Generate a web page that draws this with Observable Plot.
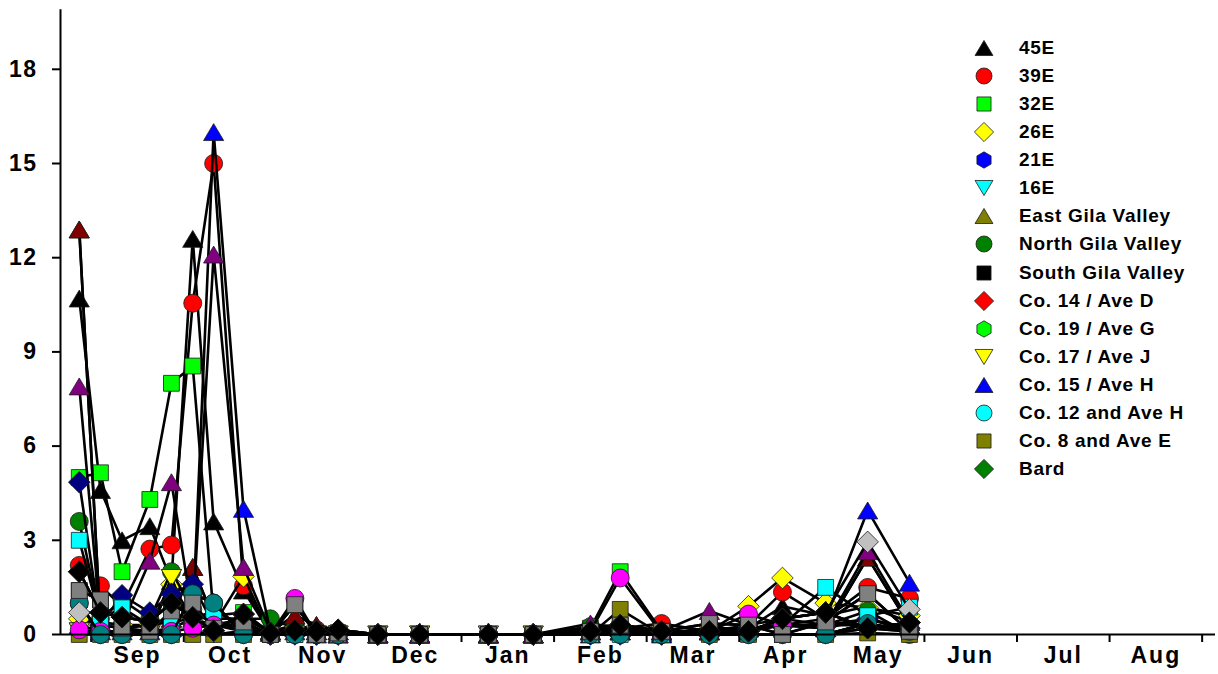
<!DOCTYPE html>
<html><head><meta charset="utf-8">
<script src="https://cdn.jsdelivr.net/npm/d3@7"></script>
<script src="https://cdn.jsdelivr.net/npm/@observablehq/plot@0.6"></script>
<style>
body{margin:0;background:#fff;}
#wrap{position:relative;width:1218px;height:674px;font-family:"Liberation Sans",Arial,sans-serif;}
#wrap svg g[aria-label="x-axis tick label"] text{letter-spacing:2px;}
#wrap svg g[aria-label="y-axis tick label"] text{letter-spacing:1.5px;}
#legend{position:absolute;left:970px;top:34px;}
.lrow{height:28.07px;display:flex;align-items:center;}
.lrow svg{width:28px;height:28px;flex:none;}
.lrow span{margin-left:21px;font-weight:bold;font-size:19px;letter-spacing:0.7px;color:#000;white-space:nowrap;}
</style></head><body><div id="wrap"></div><script>
// ---------- data ----------
const sampleDates = ["2014-08-28","2014-09-04","2014-09-11","2014-09-20","2014-09-27","2014-10-04","2014-10-11","2014-10-21","2014-10-30","2014-11-07","2014-11-14","2014-11-21","2014-12-04","2014-12-18","2015-01-10","2015-01-25","2015-02-12","2015-02-21","2015-03-06","2015-03-22","2015-04-04","2015-04-15","2015-04-29","2015-05-13","2015-05-27"];
const monthLabels = ["Sep","Oct","Nov","Dec","Jan","Feb","Mar","Apr","May","Jun","Jul","Aug"];
const yTicks = [0,3,6,9,12,15,18];

const v45E   = [10.7,4.6,3.0,3.45,1.7,12.6,3.6,1.4,0.05,0.3,0.1,0.1,0,0,0,0,0.1,0.2,0.05,0.2,0.2,0.9,0.6,0.9,0.4];
const v39E   = [2.2,1.55,0.9,2.72,2.85,10.55,15.0,1.55,0.1,0.3,0.15,0.1,0,0,0,0,0.2,0.2,0.35,0.1,0.3,1.35,0.5,1.5,1.15];
const v32E   = [5.0,5.15,2.0,4.3,8.0,8.55,0.6,0.7,0.05,0.1,0,0,0,0,0,0,0.2,2.0,0.1,0.1,0.1,0.3,0.2,0.5,0.1];
const v26E   = [0.5,0.3,0.3,0.3,1.6,0.5,0.3,1.85,0,0.1,0,0,0,0,0,0,0.1,0.1,0,0.1,0.9,1.8,1.0,0.85,0.6];
const v21E   = [1.0,0,0,0,0,1.3,1.0,0,0,0,0,0,0,0,0,0,0,0,0,0,0,0,0,0.35,0.1];
const v16E   = [0.1,0,0,0,1.8,0.1,0,0.1,0,0,0,0,0,0,0,0,0,0,0,0,0,0,0,0.2,0.1];
const vEGV   = [12.9,0.3,0.2,0.3,0.5,2.15,0.5,0.5,0.1,0.6,0.3,0.1,0,0,0,0,0.1,0.1,0.1,0.1,0.2,0.3,0.2,2.45,0.3];
const vNGV   = [3.6,0.5,1.1,0.5,2.0,0.8,0.3,0.5,0.5,0.2,0.1,0,0,0,0,0,0.25,0.3,0.1,0.1,0.2,0.3,0.3,0.75,0];
const vSGV   = [1.4,1.1,0.2,0.1,0.75,1.0,0.2,0.4,0,0.95,0,0.05,0,0,0,0,0.1,0.3,0.1,0.35,0.3,0,0.4,1.3,0.1];
const vCo14  = [2.0,0.7,0.55,0.42,1.0,0.55,0.12,0.65,0.05,0.13,0.1,0.15,0,0,0,0,0.1,0.3,0.1,0.1,0.1,0.5,0.7,0.2,0.38];
const vCo19  = [1.0,0,0,0,0,1.3,1.0,0,0,0,0,0,0,0,0,0,0,0,0,0,0,0,0,0.35,0.1];
const vCo17  = [0.1,0,0,0,1.8,0.1,0,0.1,0,0,0,0,0,0,0,0,0,0,0,0,0,0,0,0.2,0.1];
const vCo15  = [0.3,0.1,0.1,0.1,0.2,0.5,16.0,4.0,0.1,0.1,0,0,0,0,0,0,0,0.1,0,0.1,0.2,0.3,0.5,3.95,1.65];
const vCo12  = [1.0,0,0,0,0,1.3,1.0,0,0,0,0,0,0,0,0,0,0,0,0,0,0,0,0,0.35,0.1];
const vCo8   = [0,0,0,0,0,0,0,0,0,0,0,0,0,0,0,0,0,0.8,0,0,0,0,0,0.05,0];
const vBard  = [2.0,0.7,0.55,0.42,1.0,0.55,0.12,0.65,0.05,0.13,0.1,0.15,0,0,0,0,0.1,0.3,0.1,0.1,0.1,0.5,0.7,0.2,0.38];
const vS17   = [12.9,0.3,0.2,0.3,0.5,2.15,0.5,0.5,0.1,0.6,0.3,0.1,0,0,0,0,0.1,0.1,0.1,0.1,0.2,0.3,0.2,2.45,0.3];
const vS18   = [7.9,0.4,0.3,2.35,4.85,0.6,12.1,2.15,0.1,0.2,0.1,0,0,0,0,0,0.35,0.2,0.1,0.75,0.3,0.5,0.3,2.65,0.4];
const vS19   = [4.85,0.3,1.25,0.7,1.3,1.6,0.3,0.2,0,0,0,0,0,0,0,0,0,0,0,0,0.2,0.3,0.3,0.5,0.2];
const vS20   = [3.0,0.5,0.85,0.3,0.4,0.5,0.75,0.3,0,0,0,0,0,0,0,0,0,0,0,0.1,0.1,0.3,1.5,0.6,0.87];
const vS21   = [0.15,0.1,0.05,0.05,0.1,0.2,0.3,0.1,0,1.15,0,0,0,0,0,0,0.1,1.8,0.05,0.1,0.65,0.3,0.3,0.3,0.2];
const vS22   = [1.0,0,0,0,0,1.3,1.0,0,0,0,0,0,0,0,0,0,0,0,0,0,0,0,0,0.35,0.1];
const vS23   = [1.4,1.1,0.2,0.1,0.75,1.0,0.2,0.4,0,0.95,0,0.05,0,0,0,0,0.1,0.3,0.1,0.35,0.3,0,0.4,1.3,0.1];
const vS24   = [0.7,0.7,0.55,0.42,1.0,0.55,0.12,0.65,0.05,0.13,0.1,0.15,0,0,0,0,0.1,0.3,0.1,0.1,0.1,0.5,0.7,2.95,0.8];
const vS25   = [2.0,0.7,0.55,0.42,1.0,0.55,0.12,0.65,0.05,0.13,0.1,0.15,0,0,0,0,0.1,0.3,0.1,0.1,0.1,0.5,0.7,0.2,0.38];

// ---------- symbols ----------
function sym(fn){ return {draw(c,size){ const R=Math.sqrt(size/Math.PI); fn(c,R); }}; }
const shapes = {
  circle: sym((c,R)=>{c.moveTo(R,0); c.arc(0,0,R,0,2*Math.PI); c.closePath();}),
  square: sym((c,R)=>{const h=R*0.88; c.moveTo(-h,-h); c.lineTo(h,-h); c.lineTo(h,h); c.lineTo(-h,h); c.closePath();}),
  triUp: sym((c,R)=>{const w=R*1.12,h=R*0.94; c.moveTo(0,-h); c.lineTo(w,h); c.lineTo(-w,h); c.closePath();}),
  triDown: sym((c,R)=>{const w=R*1.12,h=R*0.94; c.moveTo(0,h); c.lineTo(w,-h); c.lineTo(-w,-h); c.closePath();}),
  diamond: sym((c,R)=>{const d=R*1.2; c.moveTo(0,-d); c.lineTo(d,0); c.lineTo(0,d); c.lineTo(-d,0); c.closePath();}),
  hexagon: sym((c,R)=>{const r=R*1.02; for(let k=0;k<6;k++){const a=(-90+60*k)*Math.PI/180; const x=r*Math.cos(a), y=r*Math.sin(a); if(k===0) c.moveTo(x,y); else c.lineTo(x,y);} c.closePath();})
};

const series = [
  {name:"45E", values:v45E, fill:"#000000", shape:"triUp", legend:true},
  {name:"39E", values:v39E, fill:"#ff0000", shape:"circle", legend:true},
  {name:"32E", values:v32E, fill:"#00ff00", shape:"square", legend:true},
  {name:"26E", values:v26E, fill:"#ffff00", shape:"diamond", legend:true},
  {name:"21E", values:v21E, fill:"#0000ff", shape:"hexagon", legend:true},
  {name:"16E", values:v16E, fill:"#00ffff", shape:"triDown", legend:true},
  {name:"East Gila Valley", values:vEGV, fill:"#808000", shape:"triUp", legend:true},
  {name:"North Gila Valley", values:vNGV, fill:"#008000", shape:"circle", legend:true},
  {name:"South Gila Valley", values:vSGV, fill:"#000000", shape:"square", legend:true},
  {name:"Co. 14 / Ave D", values:vCo14, fill:"#ff0000", shape:"diamond", legend:true},
  {name:"Co. 19 / Ave G", values:vCo19, fill:"#00ff00", shape:"hexagon", legend:true},
  {name:"Co. 17 / Ave J", values:vCo17, fill:"#ffff00", shape:"triDown", legend:true},
  {name:"Co. 15 / Ave H", values:vCo15, fill:"#0000ff", shape:"triUp", legend:true},
  {name:"Co. 12 and Ave H", values:vCo12, fill:"#00ffff", shape:"circle", legend:true},
  {name:"Co. 8 and Ave E", values:vCo8, fill:"#808000", shape:"square", legend:true},
  {name:"Bard", values:vBard, fill:"#008000", shape:"diamond", legend:true},
  {name:"site17", values:vS17, fill:"#800000", shape:"triUp", legend:false},
  {name:"site18", values:vS18, fill:"#800080", shape:"triUp", legend:false},
  {name:"site19", values:vS19, fill:"#000080", shape:"diamond", legend:false},
  {name:"site20", values:vS20, fill:"#00ffff", shape:"square", legend:false},
  {name:"site21", values:vS21, fill:"#ff00ff", shape:"circle", legend:false},
  {name:"site22", values:vS22, fill:"#008080", shape:"circle", legend:false},
  {name:"site23", values:vS23, fill:"#808080", shape:"square", legend:false},
  {name:"site24", values:vS24, fill:"#c0c0c0", shape:"diamond", legend:false},
  {name:"site25", values:vS25, fill:"#000000", shape:"diamond", legend:false}
];

// month-offset (0 = 1 Sep, equal-width months)
function monthOffset(s){
  const [y,m,d] = s.split("-").map(Number);
  const idx = (y-2014)*12 + (m-9);
  const dim = new Date(Date.UTC(y,m,0)).getUTCDate();
  return idx + (d-1)/dim;
}
const xs = sampleDates.map(monthOffset);
const xMin = -0.3316, xMax = 12.1443;
const monthStarts = d3.range(0,13);
const monthMids = monthLabels.map((_,i)=>i+0.5);

const marks = [];
for (const s of series) {
  const rows = s.values.map((v,i)=>({m:xs[i], v}));
  marks.push(Plot.line(rows,{x:"m",y:"v",stroke:"#000",strokeWidth:2.6}));
  marks.push(Plot.dot(rows,{x:"m",y:"v",r:9,symbol:shapes[s.shape],fill:s.fill,stroke:"#1a1a1a",strokeWidth:0.8}));
}

const chart = Plot.plot({
  width:1218, height:674,
  marginLeft:60, marginRight:3, marginTop:6, marginBottom:40,
  style:{fontFamily:"'Liberation Sans', Arial, sans-serif", background:"#fff", color:"#000"},
  x:{type:"linear", domain:[xMin,xMax]},
  y:{domain:[0,20]},
  marks:[
    Plot.axisY({ticks:yTicks, tickSize:8, tickPadding:15, fontSize:23, fontWeight:"bold", label:null, strokeWidth:2}),
    Plot.axisX({ticks:monthStarts, tickSize:8, tickFormat:()=>"", label:null, strokeWidth:2}),
    Plot.axisX({ticks:monthMids, tickSize:0, tickPadding:12, tickFormat:d=>monthLabels[Math.floor(d)], fontSize:23, fontWeight:"bold", label:null}),
    ...marks,
    Plot.ruleX([xMin],{y1:0,y2:19.9,stroke:"#000",strokeWidth:2}),
    Plot.ruleY([0],{x1:xMin,x2:xMax,stroke:"#000",strokeWidth:2})
  ]
});
const wrap = document.getElementById("wrap");
wrap.appendChild(chart);

// legend
const legend = document.createElement("div");
legend.id = "legend";
for (const s of series.filter(d=>d.legend)) {
  const row = document.createElement("div"); row.className = "lrow";
  const p = d3.path(); shapes[s.shape].draw(p, 8*8*Math.PI);
  const svg = d3.create("svg").attr("viewBox","-14 -14 28 28");
  svg.append("path").attr("d", p.toString()).attr("fill", s.fill).attr("stroke","#1a1a1a").attr("stroke-width",0.8);
  row.appendChild(svg.node());
  const t = document.createElement("span"); t.textContent = s.name;
  row.appendChild(t);
  legend.appendChild(row);
}
wrap.appendChild(legend);
</script></body></html>
